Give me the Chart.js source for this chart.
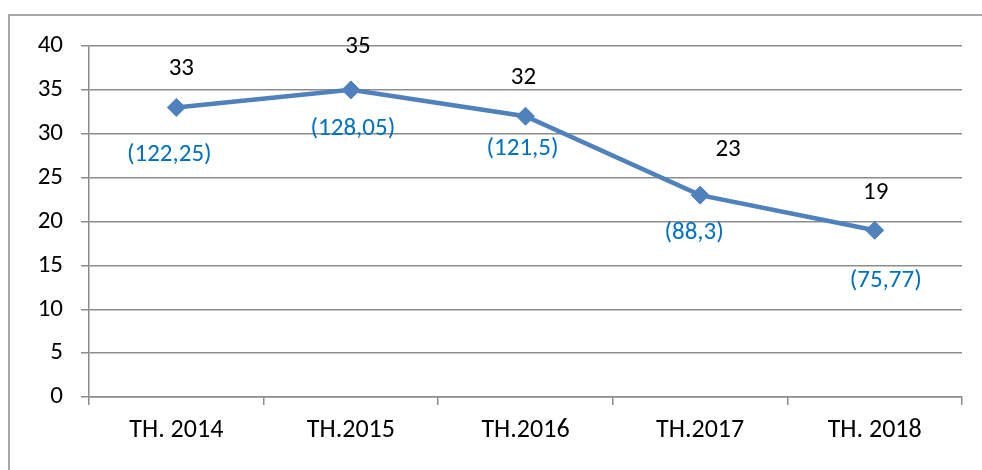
<!DOCTYPE html>
<html>
<head>
<meta charset="utf-8">
<script src="https://cdn.jsdelivr.net/npm/chart.js@4"></script>
<style>
  html, body { margin: 0; padding: 0; background: #fff; }
  #wrap { width: 982px; height: 470px; }
</style>
</head>
<body>
<div id="wrap"><canvas id="chart" width="982" height="470"></canvas></div>
<script>
// --- Dados ---
const nhan = ['TH. 2014', 'TH.2015', 'TH.2016', 'TH.2017', 'TH. 2018'];
const soLieu = [33, 35, 32, 23, 19];
const nhanPhu = ['(122,25)', '(128,05)', '(121,5)', '(88,3)', '(75,77)'];

const FONT = 'Carlito, Lato, "Open Sans", sans-serif';
const GRID = '#8c8c8c';

// vị trí nhãn so với điểm (px)
const lechTren = [[5, -39], [7, -43], [-2, -38], [28, -45], [1, -38]];
const lechDuoi = [[-7, 47], [2, 39], [-3, 33], [-6, 38], [11, 50]];

// khung viền ngoài + nhãn dữ liệu
const khungVaNhan = {
  id: 'khungVaNhan',
  afterDraw(chart) {
    const ctx = chart.ctx;
    ctx.save();
    ctx.strokeStyle = GRID;
    ctx.lineWidth = 1.5;
    ctx.strokeRect(9, 15, 1100, 600);

    const meta = chart.getDatasetMeta(0);
    ctx.font = '25px ' + FONT;
    ctx.textAlign = 'center';
    ctx.textBaseline = 'middle';
    meta.data.forEach((pt, i) => {
      ctx.fillStyle = '#000';
      ctx.fillText(String(soLieu[i]), pt.x + lechTren[i][0], pt.y + lechTren[i][1]);
      ctx.fillStyle = '#0070c0';
      ctx.fillText(nhanPhu[i], pt.x + lechDuoi[i][0], pt.y + lechDuoi[i][1]);
    });
    ctx.restore();
  }
};

const chart = new Chart(document.getElementById('chart'), {
  type: 'line',
  data: {
    labels: nhan,
    datasets: [{
      data: soLieu,
      borderColor: '#4f81bd',
      backgroundColor: '#4f81bd',
      borderWidth: 4.5,
      tension: 0,
      pointStyle: 'rectRot',
      pointRadius: 9,
      pointBorderWidth: 1,
      pointBackgroundColor: '#4f81bd',
      pointBorderColor: '#4f81bd'
    }]
  },
  options: {
    responsive: false,
    animation: false,
    layout: { padding: { top: 46, right: 20, bottom: 0, left: 0 } },
    plugins: {
      legend: { display: false },
      tooltip: { enabled: false }
    },
    scales: {
      x: {
        offset: true,
        afterFit: (s) => { s.height = 73; },
        grid: {
          offset: true,
          drawOnChartArea: false,
          drawTicks: true,
          tickLength: 8,
          color: GRID,
          lineWidth: 1.5
        },
        border: { color: GRID, width: 1.5 },
        ticks: { color: '#000', font: { family: FONT, size: 26 }, padding: 10, maxRotation: 0 }
      },
      y: {
        min: 0,
        max: 40,
        afterFit: (s) => { s.width = 89; },
        grid: { color: GRID, lineWidth: 1.5, tickLength: 8 },
        border: { color: GRID, width: 1.5 },
        ticks: { stepSize: 5, color: '#000', font: { family: FONT, size: 25 }, padding: 18 }
      }
    }
  },
  plugins: [khungVaNhan]
});
</script>
</body>
</html>
